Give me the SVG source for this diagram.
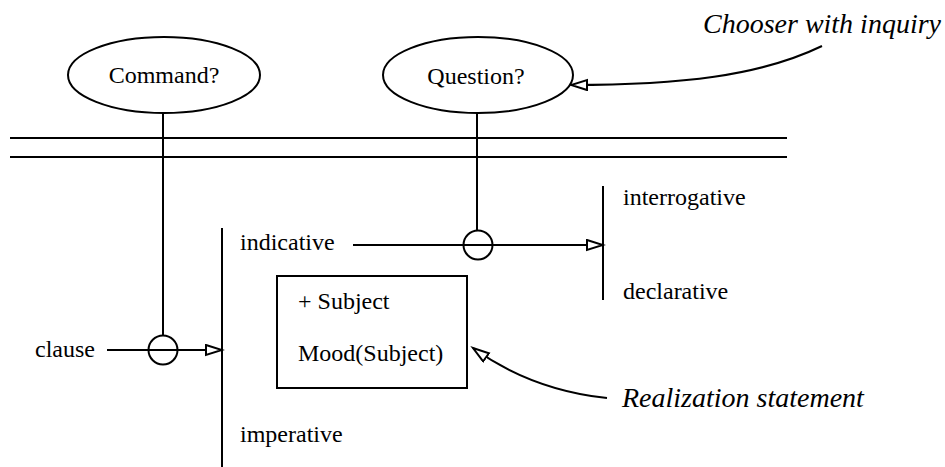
<svg xmlns="http://www.w3.org/2000/svg" width="945" height="467" viewBox="0 0 945 467">
  <style>
    .ln { stroke: #000; stroke-width: 2; fill: none; }
    .nd { stroke: #000; stroke-width: 2; fill: #fff; }
    text { fill: #000; }
    .t { font-family: 'Tinos', 'Times New Roman', 'Times', 'Nimbus Roman', 'Liberation Serif', 'DejaVu Serif', serif; font-size: 24px; }
    .it { font-family: 'Tinos', 'Times New Roman', 'Times', 'Nimbus Roman', 'Liberation Serif', 'DejaVu Serif', serif; font-size: 28px; font-style: italic; }
  </style>
  <defs>
    <marker id="open" markerUnits="userSpaceOnUse" markerWidth="20" markerHeight="14" refX="17" refY="6" orient="auto">
      <path d="M1,1 L17,6 L1,11 Z" fill="#fff" stroke="#000" stroke-width="2"/>
    </marker>
  </defs>

  <rect width="945" height="467" fill="#fff"/>

  <!-- system boundary: double rule -->
  <g id="boundary">
    <line class="ln" x1="10" y1="138" x2="787" y2="138"/>
    <line class="ln" x1="10" y1="157" x2="787" y2="157"/>
  </g>

  <g id="connectors">
    <!-- inquiry links from choosers to choice points -->
    <line class="ln" x1="163" y1="113" x2="163" y2="336"/>
    <line class="ln" x1="477" y1="113" x2="477" y2="231"/>
    <!-- entry conditions -->
    <line class="ln" x1="107" y1="350" x2="222" y2="350" marker-end="url(#open)"/>
    <line class="ln" x1="353" y1="245" x2="603" y2="245" marker-end="url(#open)"/>
    <!-- annotation pointers -->
    <path class="ln" d="M822,46 C760,76 680,85 571,85" marker-end="url(#open)"/>
    <path class="ln" d="M607,398 C560,393 515,378 473,348" marker-end="url(#open)"/>
  </g>

  <g id="command">
    <ellipse class="nd" cx="164" cy="75" rx="96" ry="38"/>
    <text class="t" x="164" y="83" text-anchor="middle">Command?</text>
  </g>

  <g id="question">
    <ellipse class="nd" cx="478" cy="75" rx="95" ry="38"/>
    <text class="t" x="476" y="84" text-anchor="middle">Question?</text>
  </g>

  <g id="mood-system">
    <text class="t" x="35" y="357">clause</text>
    <circle class="ln" cx="163" cy="350" r="14.5"/>
    <line class="ln" x1="222" y1="228" x2="222" y2="467"/>
    <text class="t" x="240" y="250">indicative</text>
    <text class="t" x="240" y="442">imperative</text>
  </g>

  <g id="indicative-system">
    <circle class="ln" cx="478" cy="245" r="14.5"/>
    <line class="ln" x1="603" y1="186" x2="603" y2="300"/>
    <text class="t" x="623" y="205">interrogative</text>
    <text class="t" x="623" y="299">declarative</text>
  </g>

  <g id="realization">
    <rect class="nd" x="277" y="276" width="190" height="112"/>
    <text class="t" x="298" y="309">+ Subject</text>
    <text class="t" x="298" y="361">Mood(Subject)</text>
  </g>

  <g id="labels">
    <text class="it" x="941" y="33" text-anchor="end">Chooser with inquiry</text>
    <text class="it" x="622" y="407">Realization statement</text>
  </g>
</svg>
